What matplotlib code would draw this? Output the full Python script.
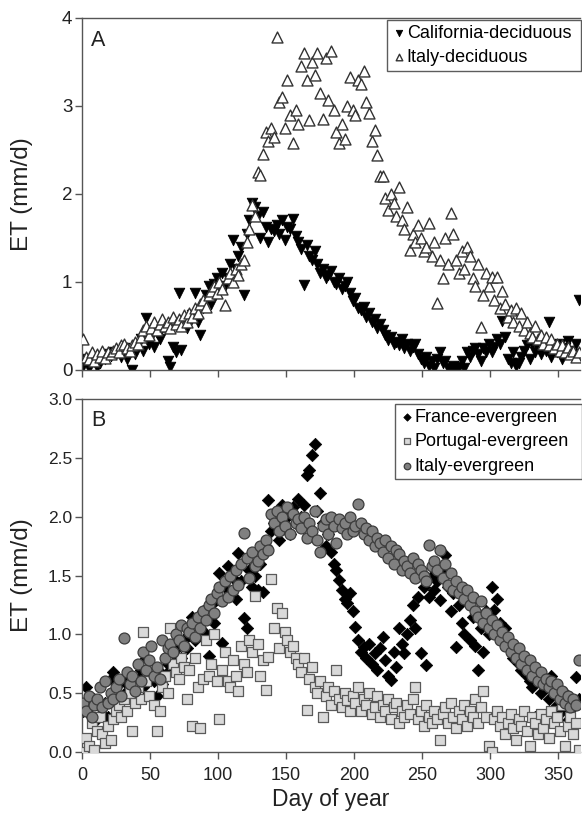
import matplotlib
matplotlib.use("Agg")
import matplotlib.pyplot as plt
import numpy as np

plt.rcParams['font.family'] = ['Liberation Sans', 'DejaVu Sans']

# day of year, one reading every second day
days = np.arange(1, 366, 2)

# panel A: deciduous stands (mm/d)
california_dec = [
    0.05, 0.12, 0.02, 0.10, 0.15, 0.03, 0.08, 0.14, 0.12, 0.18,
    0.16, 0.20, 0.18, 0.22, 0.15, 0.25, 0.12, 0.20, 0.00, 0.18,
    0.28, 0.35, 0.22, 0.59, 0.30, 0.38, 0.26, 0.42, 0.35, 0.48,
    0.48, 0.10, 0.03, 0.26, 0.20, 0.87, 0.23, 0.52, 0.48, 0.58,
    0.62, 0.87, 0.55, 0.40, 0.70, 0.85, 0.95, 0.75, 0.98, 1.05,
    0.90, 1.10, 0.95, 1.05, 1.20, 1.48, 1.15, 1.30, 1.40, 0.85,
    1.55, 1.70, 1.90, 1.85, 1.75, 1.50, 1.80, 1.62, 1.45, 1.60,
    1.58, 1.65, 1.55, 1.70, 1.48, 1.63, 1.60, 1.72, 1.52, 1.45,
    1.38, 0.97, 1.42, 1.30, 1.25, 1.35, 1.20, 1.10, 1.15, 1.05,
    1.08, 1.12, 1.00, 0.98, 1.05, 0.92, 0.95, 1.00, 0.88, 0.78,
    0.82, 0.70, 0.68, 0.72, 0.60, 0.65, 0.55, 0.58, 0.48, 0.52,
    0.45, 0.40, 0.34, 0.38, 0.30, 0.32, 0.28, 0.35, 0.25, 0.30,
    0.22, 0.26, 0.30, 0.18, 0.12, 0.08, 0.15, 0.05, 0.10, 0.02,
    0.12, 0.20, 0.08, 0.10, 0.02, 0.00, 0.05, 0.00, 0.03, 0.10,
    0.02, 0.20, 0.15, 0.22, 0.25, 0.18, 0.10, 0.25, 0.20, 0.30,
    0.20, 0.26, 0.35, 0.30, 0.56, 0.38, 0.12, 0.08, 0.20, 0.04,
    0.08, 0.15, 0.22, 0.28, 0.12, 0.30, 0.20, 0.25, 0.18, 0.32,
    0.22, 0.55, 0.15, 0.28, 0.20, 0.30, 0.12, 0.25, 0.33, 0.22,
    0.18, 0.30, 0.80]
italy_dec = [
    0.35, 0.15, 0.12, 0.20, 0.10, 0.18, 0.15, 0.22, 0.14, 0.20,
    0.18, 0.22, 0.25, 0.20, 0.28, 0.30, 0.25, 0.22, 0.28, 0.32,
    0.30, 0.38, 0.45, 0.50, 0.40, 0.48, 0.55, 0.45, 0.52, 0.58,
    0.50, 0.55, 0.48, 0.60, 0.52, 0.58, 0.50, 0.62, 0.55, 0.65,
    0.60, 0.70, 0.65, 0.75, 0.80, 0.72, 0.85, 0.90, 0.95, 0.88,
    1.00, 0.92, 0.74, 1.05, 1.10, 1.00, 1.15, 1.08, 1.20, 1.25,
    1.45, 1.60, 1.88, 1.75, 2.25, 2.22, 2.45, 2.70, 2.60, 2.75,
    2.65, 3.78, 3.05, 3.10, 2.75, 3.30, 2.90, 2.58, 2.95, 2.80,
    3.45, 3.60, 3.30, 2.84, 3.50, 3.35, 3.60, 3.15, 2.85, 3.55,
    3.07, 3.62, 2.95, 2.70, 2.58, 2.80, 2.62, 3.00, 3.33, 2.95,
    2.90, 3.30, 3.25, 3.40, 3.05, 2.92, 2.60, 2.73, 2.44, 2.20,
    2.20, 1.95, 1.82, 2.00, 1.90, 1.75, 2.08, 1.70, 1.60, 1.85,
    1.36, 1.55, 1.45, 1.65, 1.50, 1.35, 1.40, 1.67, 1.30, 1.45,
    0.76, 1.25, 1.05, 1.50, 1.20, 1.78, 1.55, 1.25, 1.10, 1.35,
    1.15, 1.40, 1.30, 1.05, 0.95, 1.20, 0.49, 0.85, 1.10, 0.95,
    1.06, 0.80, 1.06, 0.70, 0.90, 0.75, 0.60, 0.68, 0.55, 0.70,
    0.50, 0.65, 0.45, 0.55, 0.42, 0.38, 0.50, 0.35, 0.40, 0.30,
    0.38, 0.28, 0.35, 0.25, 0.30, 0.22, 0.28, 0.20, 0.26, 0.18,
    0.22, 0.15, 0.20]

# panel B: evergreen stands (mm/d)
france_ev = [
    0.35, 0.55, 0.40, 0.30, 0.45, 0.28, 0.38, 0.32, 0.42, 0.30,
    0.62, 0.68, 0.50, 0.58, 0.45, 0.60, 0.52, 0.65, 0.48, 0.55,
    0.62, 0.70, 0.55, 0.80, 0.65, 0.72, 0.60, 0.48, 0.68, 0.58,
    0.65, 0.75, 0.70, 0.85, 0.78, 0.90, 0.80, 0.95, 0.88, 1.00,
    1.15, 0.95, 1.10, 1.05, 1.20, 1.00, 0.82, 1.25, 1.10, 1.30,
    1.52, 0.93, 1.40, 1.58, 1.35, 1.48, 1.30, 1.69, 1.45, 1.14,
    1.05, 1.55, 1.40, 1.50, 1.38, 1.60, 1.36, 1.75, 2.14, 1.88,
    1.95, 2.05, 1.80, 2.10, 1.90, 2.00, 1.85, 2.08, 1.95, 2.15,
    2.00, 2.10, 2.35, 2.40, 2.52, 2.62, 2.05, 2.20, 1.95, 1.75,
    1.85, 1.70, 1.60, 1.55, 1.46, 1.38, 1.30, 1.27, 1.35, 1.20,
    1.06, 0.95, 0.85, 0.89, 0.80, 0.92, 0.75, 0.84, 0.70, 0.88,
    0.98, 0.78, 0.65, 0.61, 0.85, 0.72, 1.05, 0.92, 0.84, 1.00,
    1.12, 1.25, 1.05, 1.32, 0.84, 1.40, 0.74, 1.32, 1.50, 1.38,
    1.45, 1.29, 1.55, 1.67, 1.40, 1.20, 1.35, 0.89, 1.25, 1.10,
    1.00, 1.30, 0.95, 1.15, 0.90, 0.70, 1.05, 0.85, 1.20, 1.00,
    1.40, 1.21, 1.30, 1.10, 0.95, 1.05, 0.90, 0.89, 0.80, 0.85,
    0.75, 0.70, 0.80, 0.65, 0.60, 0.55, 0.30, 0.68, 0.50, 0.58,
    0.62, 0.45, 0.65, 0.55, 0.40, 0.48, 0.35, 0.50, 0.27, 0.42,
    0.38, 0.64, 0.45]
portugal_ev = [
    0.00, 0.12, 0.05, 0.25, 0.02, 0.18, 0.30, 0.15, 0.08, 0.22,
    0.10, 0.28, 0.35, 0.40, 0.30, 0.45, 0.35, 0.50, 0.18, 0.42,
    0.55, 0.45, 1.02, 0.60, 0.48, 0.70, 0.40, 0.18, 0.35, 0.55,
    0.65, 0.50, 1.05, 0.75, 0.68, 0.62, 0.80, 0.72, 0.45, 0.70,
    0.22, 0.80, 0.55, 0.20, 0.62, 0.95, 0.65, 0.75, 1.00, 0.60,
    0.28, 0.70, 0.85, 0.60, 0.55, 0.78, 0.65, 0.52, 0.90, 0.75,
    0.68, 0.95, 0.85, 1.33, 0.92, 0.65, 0.78, 0.53, 0.81, 1.47,
    1.05, 1.22, 0.88, 1.18, 1.02, 0.95, 0.85, 0.90, 0.80, 0.75,
    0.68, 0.80, 0.36, 0.62, 0.72, 0.55, 0.50, 0.60, 0.30, 0.48,
    0.55, 0.40, 0.52, 0.70, 0.45, 0.38, 0.50, 0.44, 0.35, 0.48,
    0.42, 0.55, 0.35, 0.45, 0.40, 0.50, 0.32, 0.38, 0.48, 0.30,
    0.40, 0.35, 0.45, 0.28, 0.38, 0.42, 0.25, 0.35, 0.30, 0.40,
    0.32, 0.45, 0.55, 0.28, 0.35, 0.22, 0.40, 0.30, 0.25, 0.35,
    0.28, 0.10, 0.32, 0.38, 0.25, 0.42, 0.30, 0.20, 0.35, 0.28,
    0.40, 0.22, 0.35, 0.30, 0.45, 0.25, 0.38, 0.52, 0.30, 0.05,
    0.00, 0.28, 0.35, 0.22, 0.30, 0.15, 0.25, 0.32, 0.20, 0.10,
    0.28, 0.22, 0.35, 0.18, 0.05, 0.30, 0.25, 0.15, 0.32, 0.20,
    0.28, 0.12, 0.35, 0.25, 0.30, 0.18, 0.40, 0.05, 0.22, 0.30,
    0.15, 0.25, 0.02]
italy_ev = [
    0.42, 0.35, 0.48, 0.30, 0.40, 0.45, 0.55, 0.38, 0.60, 0.42,
    0.50, 0.45, 0.55, 0.62, 0.48, 0.97, 0.68, 0.58, 0.65, 0.52,
    0.75, 0.60, 0.85, 0.70, 0.78, 0.90, 0.65, 0.72, 0.62, 0.95,
    0.80, 0.88, 0.92, 0.85, 1.00, 0.95, 1.08, 0.90, 1.05, 1.02,
    1.10, 0.98, 1.15, 1.05, 1.20, 1.12, 1.25, 1.30, 1.18, 1.35,
    1.40, 1.28, 1.45, 1.32, 1.50, 1.38, 1.55, 1.42, 1.60, 1.86,
    1.65, 1.48, 1.70, 1.58, 1.62, 1.75, 1.68, 1.80, 1.72, 2.02,
    1.95, 2.05, 1.88, 2.00, 1.92, 2.08, 1.85, 2.02, 1.95, 1.98,
    1.90, 2.00, 1.82, 1.95, 1.88, 2.05, 1.80, 1.70, 1.92, 1.98,
    1.85, 2.00, 1.92, 1.78, 1.98, 1.90, 1.95, 1.85, 2.00, 1.88,
    1.92, 2.11, 1.95, 1.85, 1.90, 1.80, 1.88, 1.75, 1.82, 1.78,
    1.70, 1.80, 1.65, 1.75, 1.60, 1.72, 1.68, 1.55, 1.62, 1.58,
    1.52, 1.65, 1.48, 1.60, 1.55, 1.50, 1.45, 1.76, 1.58, 1.62,
    1.55, 1.72, 1.48, 1.60, 1.42, 1.52, 1.38, 1.45, 1.35, 1.40,
    1.30, 1.38, 1.25, 1.32, 1.20, 1.15, 1.28, 1.10, 1.18, 1.05,
    1.12, 1.00, 1.08, 0.95, 1.02, 0.90, 0.98, 0.85, 0.92, 0.80,
    0.88, 0.75, 0.82, 0.70, 0.78, 0.65, 0.72, 0.60, 0.68, 0.58,
    0.62, 0.55, 0.60, 0.50, 0.58, 0.45, 0.52, 0.42, 0.48, 0.38,
    0.45, 0.40, 0.78]

W, H = 582, 818
fig = plt.figure(figsize=(W / 100, H / 100), dpi=100)

def px_axes(left, top, right, bottom):
    return fig.add_axes([left / W, 1 - bottom / H, (right - left) / W, (bottom - top) / H])

axA = px_axes(82, 18, 580, 370)
axB = px_axes(82, 399, 580, 752)

def style(ax, ymax, yticks, ylabels, ticksize):
    ax.set_xlim(0, 366)
    ax.set_ylim(0, ymax)
    ax.set_xticks(range(0, 351, 50))
    ax.set_yticks(yticks)
    ax.set_yticklabels(ylabels)
    ax.spines['right'].set_visible(False)
    for s in ['left', 'top', 'bottom']:
        ax.spines[s].set_color('#555555')
        ax.spines[s].set_linewidth(1.0)
    ax.tick_params(direction='out', length=5, width=1, color='#555555',
                   labelsize=ticksize, labelcolor='#222222', pad=2)
    ax.set_ylabel('ET (mm/d)', fontsize=17.5, color='#222222')
    ax.yaxis.set_label_coords(-0.098, 0.5)

def legend(ax, box):
    (x0, y0), (x1, y1) = fig.transFigure.inverted().transform(
        [[box[0], H - box[3]], [box[2], H - box[1]]])
    leg = ax.legend(loc='upper left', bbox_to_anchor=(x0, y0, x1 - x0, y1 - y0),
                    bbox_transform=fig.transFigure, mode='expand', borderaxespad=0,
                    fontsize=13, frameon=True, fancybox=False, handletextpad=0.05,
                    handlelength=0.8, borderpad=0.25, labelspacing=0.42, markerscale=0.6)
    leg.get_frame().set_edgecolor('#333333')
    leg.get_frame().set_linewidth(1.0)
    return leg

# panel A
axA.scatter(days, california_dec, marker='v', s=58, c='black', edgecolors='black',
            linewidths=0.6, label='California-deciduous', zorder=2)
axA.scatter(days, italy_dec, marker='^', s=62, facecolors='white', edgecolors='#333333',
            linewidths=1.0, label='Italy-deciduous', zorder=3)
style(axA, 4, [0, 1, 2, 3, 4], ['0', '1', '2', '3', '4'], 13.5)
axA.set_xticklabels([])
axA.text(0.018, 0.935, 'A', transform=axA.transAxes, fontsize=15.5, color='#222222',
         ha='left', va='center')
legend(axA, (387, 20, 581, 71))

# panel B
axB.scatter(days, france_ev, marker='D', s=40, c='black', edgecolors='black',
            linewidths=0.5, label='France-evergreen', zorder=2)
axB.scatter(days, portugal_ev, marker='s', s=52, facecolors='#d9d9d9', edgecolors='#5a5a5a',
            linewidths=0.9, label='Portugal-evergreen', zorder=3)
axB.scatter(days, italy_ev, marker='o', s=62, facecolors='#808080', edgecolors='#3c3c3c',
            linewidths=0.9, label='Italy-evergreen', zorder=4)
style(axB, 3, [0, 0.5, 1, 1.5, 2, 2.5, 3],
      ['0.0', '0.5', '1.0', '1.5', '2.0', '2.5', '3.0'], 12.5)
axB.set_xticklabels([str(v) for v in range(0, 351, 50)])
axB.tick_params(axis='x', labelsize=13, pad=6)
axB.set_xlabel('Day of year', fontsize=16.5, color='#222222', labelpad=3)
axB.text(0.018, 0.94, 'B', transform=axB.transAxes, fontsize=15.5, color='#222222',
         ha='left', va='center')
legend(axB, (395, 404, 582, 482))

fig.savefig('out.png', dpi=100)
